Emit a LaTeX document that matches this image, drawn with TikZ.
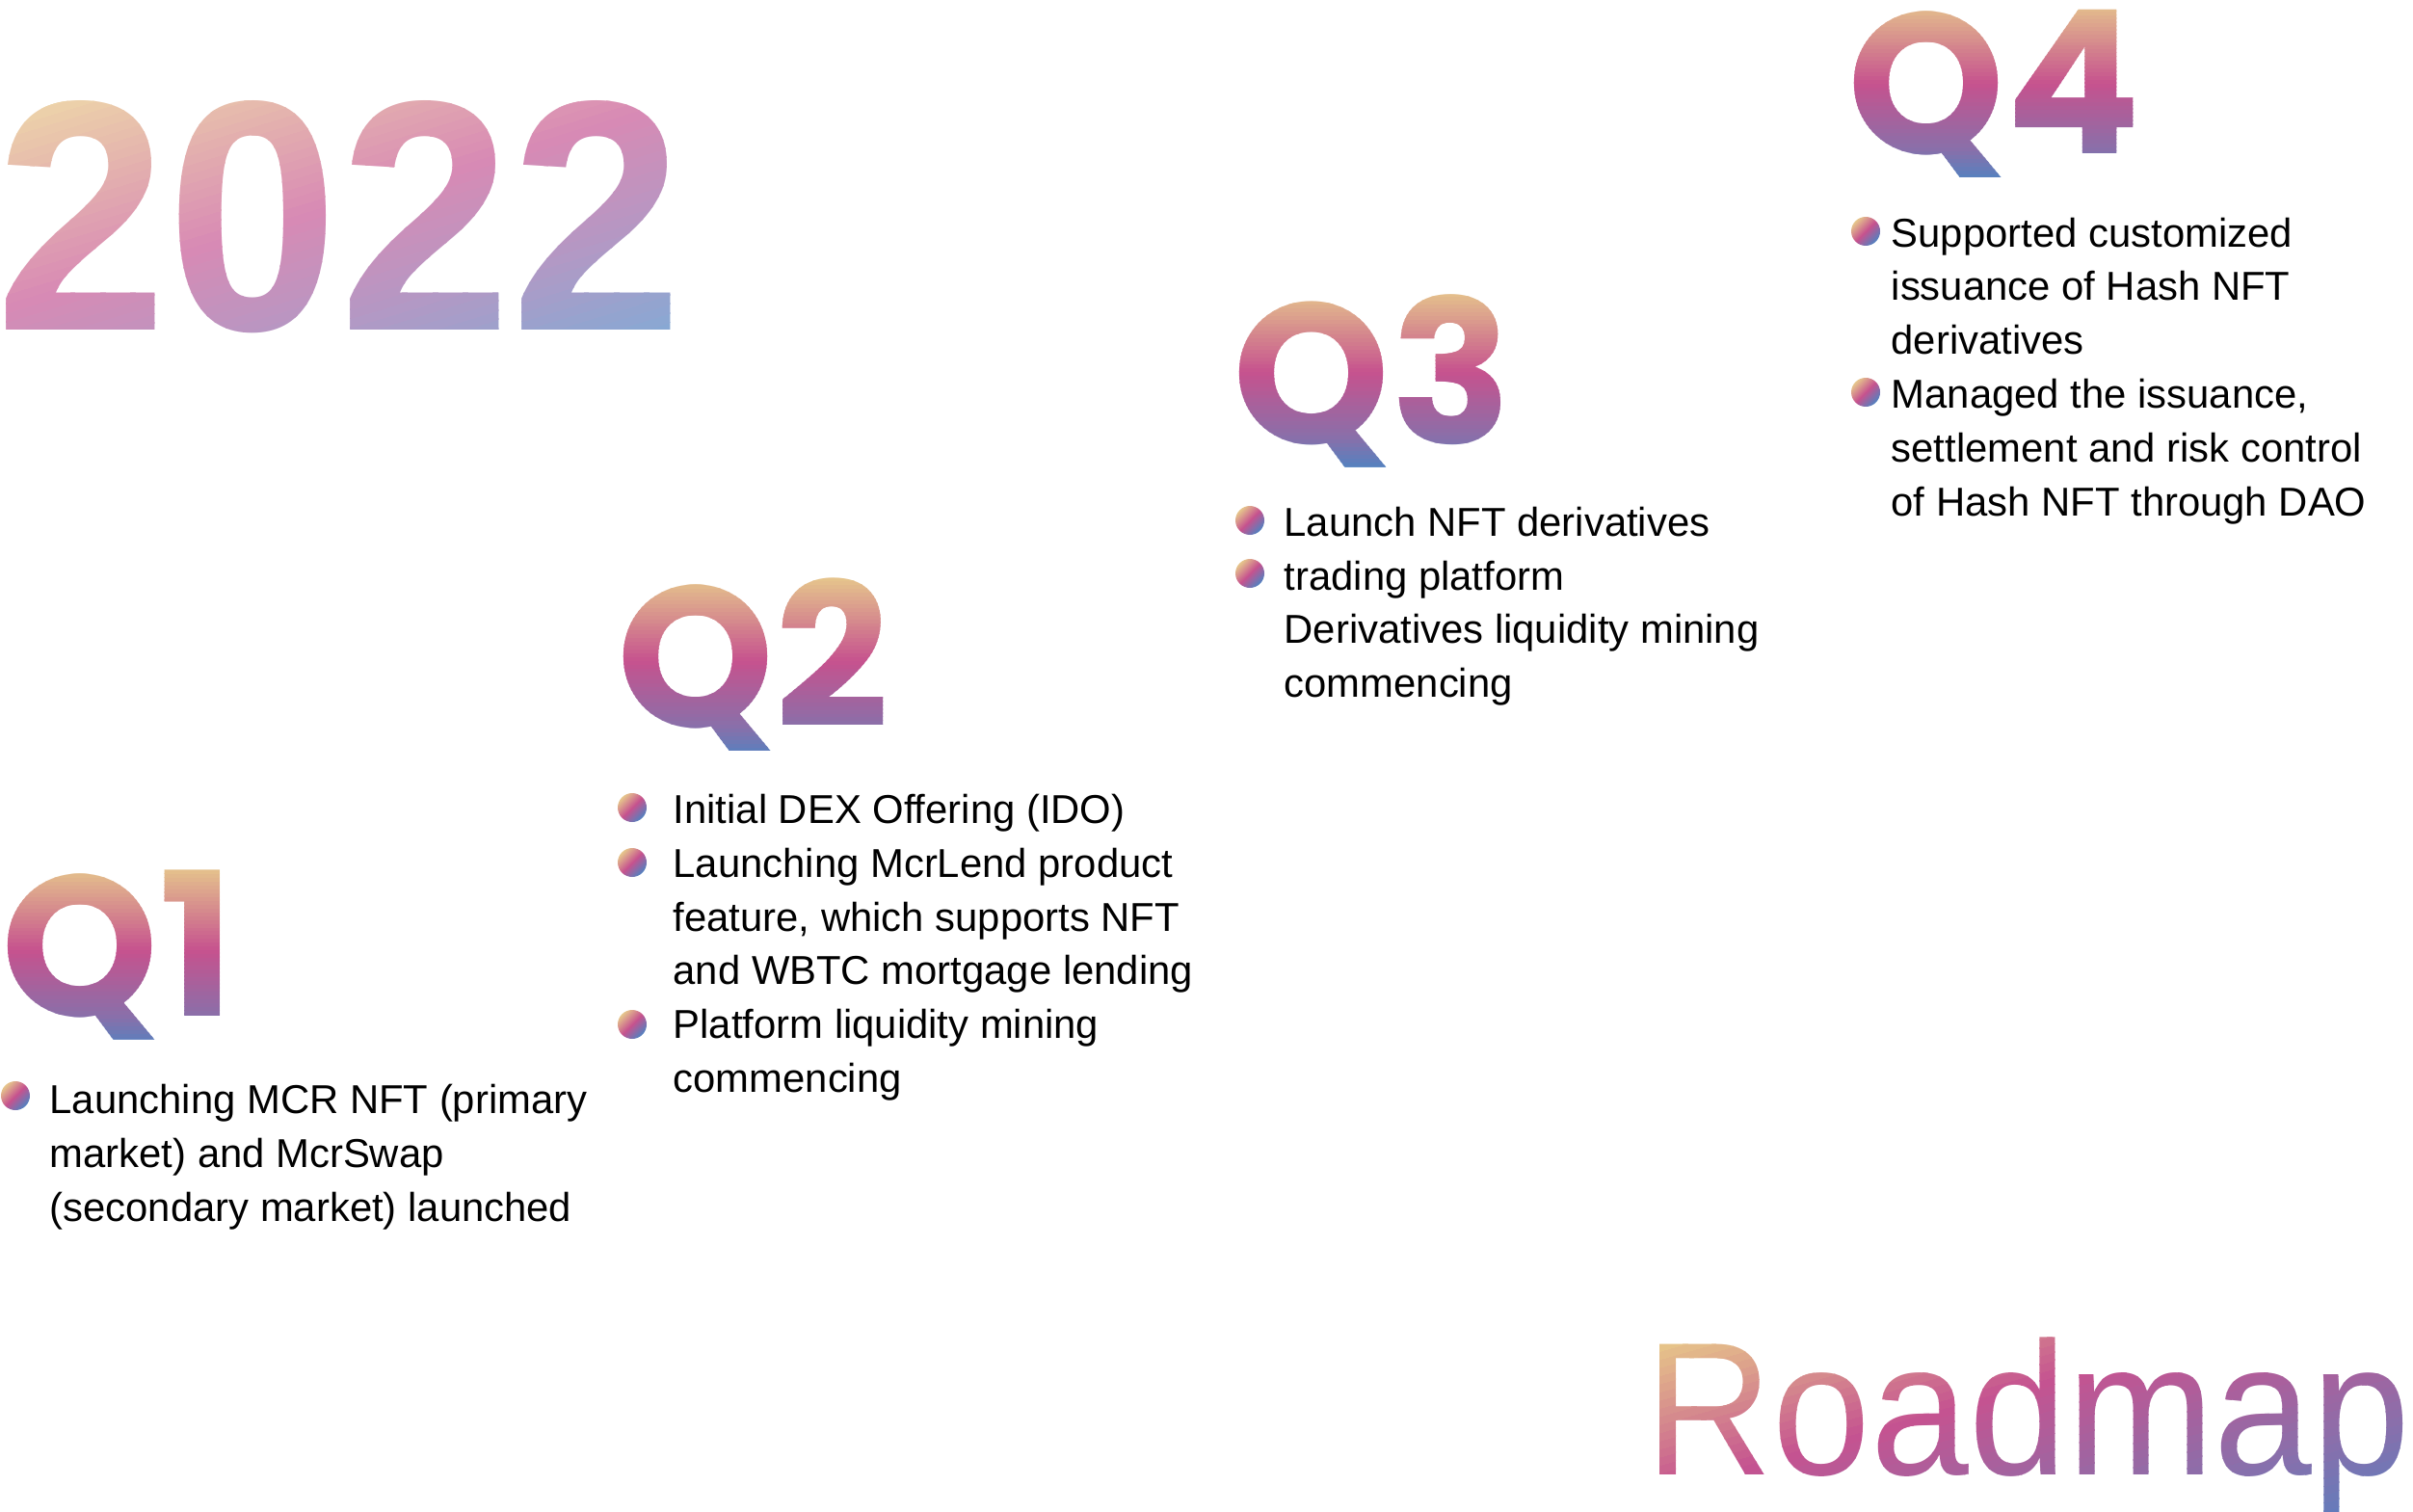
\documentclass[tikz,border=0pt]{standalone}
\usepackage{fontspec}
\setmainfont{Liberation Sans}
\newfontfamily\qfont{Poppins}

\definecolor{qtan}{RGB}{230,198,140}
\definecolor{qmag}{RGB}{198,82,142}
\definecolor{qpurple}{RGB}{136,112,170}
\definecolor{qblue}{RGB}{78,131,194}
\definecolor{ytan}{RGB}{240,220,168}
\definecolor{ypink}{RGB}{216,138,180}
\definecolor{ylav}{RGB}{180,152,196}
\definecolor{yblue}{RGB}{134,169,212}
\definecolor{rtan}{RGB}{233,204,137}
\definecolor{rmag}{RGB}{197,83,144}
\definecolor{rpurple}{RGB}{140,110,170}
\definecolor{rblue}{RGB}{90,127,191}

% colour of a band at fraction #1 (0 = bottom, 1 = top), stops gA..gD at 0, \gsA, \gsB, 1
\newcommand\setgrad[1]{%
  \pgfmathtruncatemacro\gseg{(#1<\gsA) ? 0 : ((#1<\gsB) ? 1 : 2)}%
  \ifcase\gseg
    \pgfmathsetmacro\gp{100*#1/\gsA}\colorlet{bandc}{gB!\gp!gA}%
  \or
    \pgfmathsetmacro\gp{100*(#1-\gsA)/(\gsB-\gsA)}\colorlet{bandc}{gC!\gp!gB}%
  \or
    \pgfmathsetmacro\gp{min(100,100*(#1-\gsB)/(1-\gsB))}\colorlet{bandc}{gD!\gp!gC}%
  \fi}

% text #3 (style #2) over node #1, cut in 48 bands of frame #4, span 2*#5
\newcommand\gradtext[5]{%
  \foreach \i in {0,...,47}{%
    \pgfmathsetmacro\gf{(\i+0.5)/48}%
    \setgrad{\gf}%
    \pgfmathsetmacro\ya{\i==0 ? -30 : -#5+2*#5*\i/48}%
    \pgfmathsetmacro\yb{\i==47 ? 30 : -#5+2*#5*(\i+1.15)/48}%
    \begin{scope}[#4]
      \clip (-30,\ya) rectangle (30,\yb);
      \node[#2, anchor=base west, text=bandc] at (#1.base west) {#3};
    \end{scope}}}

\begin{document}
\begin{tikzpicture}[
  yeartext/.style={font=\fontsize{97}{97}\selectfont\bfseries, xscale=0.94, inner sep=0pt},
  qtext/.style={font=\qfont\bfseries\fontsize{59}{59}\selectfont, inner sep=0pt},
  roadtext/.style={font=\fontsize{56}{56}\selectfont, xscale=0.93, inner sep=0pt},
  dot/.style={circle, minimum size=0.3cm, inner sep=0pt,
              top color=qtan, bottom color=qblue, middle color=qmag, shading angle=45},
  item/.style={anchor=north west, align=left, inner sep=0pt,
               font=\fontsize{11.9}{15.93}\selectfont}
]
\useasboundingbox (0,0) rectangle (25.04,-15.68);

% big gradient titles
\node[yeartext, anchor=base west] (year) at (-0.05,-3.43) {\phantom{2022}};
\colorlet{gA}{yblue}\colorlet{gB}{ylav}\colorlet{gC}{ypink}\colorlet{gD}{ytan}
\def\gsA{0.25}\def\gsB{0.52}
\gradtext{year}{yeartext}{2022}{shift={(3.46,-2.21)}, rotate=17}{2.2}

\node[roadtext, anchor=base west] (road) at (17.07,-15.30) {\phantom{Roadmap}};
\colorlet{gA}{rblue}\colorlet{gB}{rpurple}\colorlet{gC}{rmag}\colorlet{gD}{rtan}
\def\gsA{0.25}\def\gsB{0.6}
\gradtext{road}{roadtext}{Roadmap}{shift={(21.1,-14.77)}, rotate=16}{1.95}

\node[qtext, anchor=base west] (q1) at (0.01,-10.54) {\phantom{Q1}};
\node[qtext, anchor=base west] (q2) at (6.40,-7.54)  {\phantom{Q2}};
\node[qtext, anchor=base west] (q3) at (12.79,-4.60) {\phantom{Q3}};
\node[qtext, anchor=base west] (q4) at (19.17,-1.60) {\phantom{Q4}};
\colorlet{gA}{qblue}\colorlet{gB}{qpurple}\colorlet{gC}{qmag}\colorlet{gD}{qtan}
\def\gsA{0.17}\def\gsB{0.54}
\gradtext{q1}{qtext}{Q1}{shift={(0,-9.935)}}{0.945}
\gradtext{q2}{qtext}{Q2}{shift={(0,-6.93)}}{0.94}
\gradtext{q3}{qtext}{Q3}{shift={(0,-3.935)}}{0.935}
\gradtext{q4}{qtext}{Q4}{shift={(0,-0.94)}}{0.94}

% Q1
\node[dot] (d1a) at (0.16,-11.37) {};
\node[item] (t1) at (0.51,-11.24)
  {Launching MCR NFT (primary\\market) and McrSwap\\(secondary market) launched};

% Q2
\node[dot] (d2a) at (6.56,-8.38) {};
\node[dot] (d2b) at (6.56,-8.95) {};
\node[dot] (d2c) at (6.56,-10.63) {};
\node[item] (t2) at (6.98,-8.23)
  {Initial DEX Offering (IDO)\\Launching McrLend product\\feature, which supports NFT\\
   and WBTC mortgage lending\\Platform liquidity mining\\commencing};

% Q3
\node[dot] (d3a) at (12.97,-5.40) {};
\node[dot] (d3b) at (12.97,-5.95) {};
\node[item] (t3) at (13.32,-5.25)
  {Launch NFT derivatives\\trading platform\\Derivatives liquidity mining\\commencing};

% Q4
\node[dot] (d4a) at (19.36,-2.40) {};
\node[dot] (d4b) at (19.36,-4.07) {};
\node[item] (t4) at (19.62,-2.25)
  {Supported customized\\issuance of Hash NFT\\derivatives\\Managed the issuance,\\
   settlement and risk control\\of Hash NFT through DAO};

\end{tikzpicture}
\end{document}
